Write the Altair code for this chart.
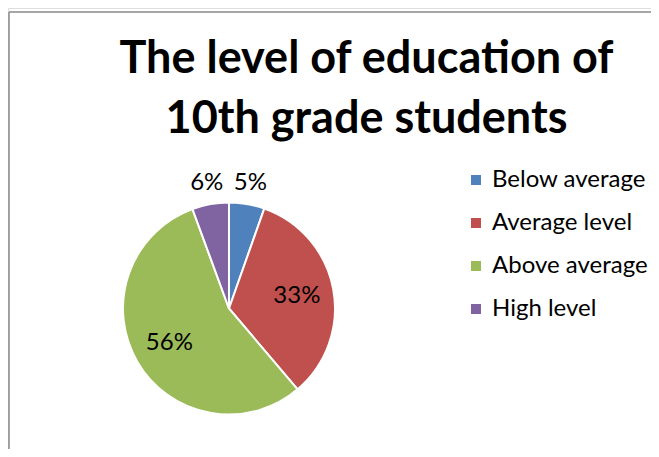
import altair as alt
import pandas as pd

categories = ["Below average", "Average level", "Above average", "High level"]
values = [5.4, 33.4, 55.6, 5.6]
colors = ["#4F81BD", "#C0504D", "#9BBB59", "#8064A2"]

df = pd.DataFrame({
    "category": categories,
    "value": values,
    "idx": list(range(len(categories))),
})

W, H = 643, 441
CX, CY = 221, 300.5
FONT = "Lato"

base = alt.Chart(df).transform_calculate(
    frac="datum.value / 100",
    lab_in="datum.value > 10 ? format(datum.value / 100, '.0%') : ''",
    lab_out="datum.value > 10 ? '' : format(datum.value / 100, '.0%')",
)

pie = base.mark_arc(outerRadius=106, stroke="white", strokeWidth=2).encode(
    theta=alt.Theta("value:Q", stack=True),
    color=alt.Color(
        "category:N",
        scale=alt.Scale(domain=categories, range=colors),
        sort=categories,
        legend=alt.Legend(
            orient="none", legendX=456, legendY=160, title=None,
            symbolType="square", symbolSize=100, symbolStrokeWidth=0,
            labelFontSize=24, labelFont=FONT, labelColor="black",
            rowPadding=19, labelOffset=4, padding=0,
        ),
    ),
    order=alt.Order("idx:Q"),
    x=alt.value(CX), y=alt.value(CY),
)

txt_in = base.mark_text(radius=69, fontSize=24, font=FONT, color="black").encode(
    theta=alt.Theta("value:Q", stack=True),
    order=alt.Order("idx:Q"),
    detail="category:N",
    text="lab_in:N",
    x=alt.value(CX), y=alt.value(CY),
)
txt_out = base.mark_text(radius=127, fontSize=24, font=FONT, color="black").encode(
    theta=alt.Theta("value:Q", stack=True),
    order=alt.Order("idx:Q"),
    detail="category:N",
    text="lab_out:N",
    x=alt.value(CX), y=alt.value(CY),
)

frame_data = alt.Data(values=[{"a": 1}])
left_rule = alt.Chart(frame_data).mark_rule(color="#888888", strokeWidth=1.5).encode(
    x=alt.value(1), y=alt.value(4), y2=alt.value(H)
)
top_rule = alt.Chart(frame_data).mark_rule(color="#888888", strokeWidth=1.5).encode(
    x=alt.value(1), x2=alt.value(W), y=alt.value(4)
)

chart = alt.layer(left_rule, top_rule, pie, txt_in, txt_out).properties(
    width=W, height=H,
    autosize=alt.AutoSizeParams(type="none"),
    padding=0,
    title=alt.TitleParams(
        text=["The level of education of", "10th grade students"],
        font=FONT, fontSize=45, fontWeight="bold", color="black",
        lineHeight=60, anchor="middle", dx=37, dy=138,
    ),
).configure_view(stroke=None).configure(background="white")

chart.save("out.html", embed_options={"renderer": "svg", "actions": False})
